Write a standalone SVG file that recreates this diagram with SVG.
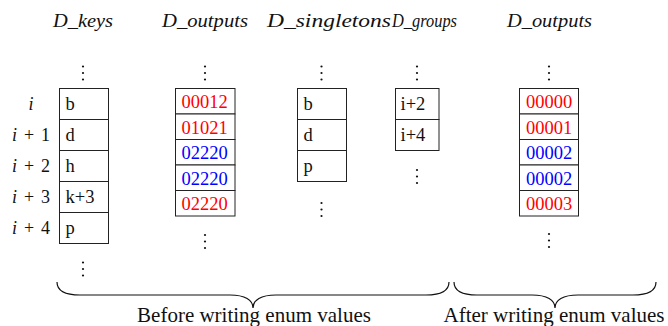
<svg xmlns="http://www.w3.org/2000/svg" width="668" height="326" viewBox="0 0 668 326">
<style>
  .title { font-family: "Liberation Serif", "DejaVu Serif", serif; font-style: italic; font-size: 19px; fill: #111; }
  .cell { fill: #fff; stroke: #222; stroke-width: 1; }
  .txt { font-family: "Liberation Serif", "DejaVu Serif", serif; font-size: 18.5px; fill: #111; }
  .red { fill: #ff0000; }
  .blue { fill: #0000ff; }
  .lbl { font-family: "Liberation Serif", "DejaVu Serif", serif; font-size: 18px; fill: #111; text-anchor: middle; }
  .brace { fill: none; stroke: #111; stroke-width: 1.2; }
  .cap { font-family: "Liberation Serif", "DejaVu Serif", serif; font-size: 21px; fill: #111; text-anchor: middle; }
</style>
<defs>
  <g id="vdots">
    <circle cx="0" cy="0" r="1.1" fill="#111"/>
    <circle cx="0" cy="6.5" r="1.1" fill="#111"/>
    <circle cx="0" cy="13" r="1.1" fill="#111"/>
  </g>
</defs>
<rect width="668" height="326" fill="#fff"/>

<g id="titles">
  <text class="title" x="53" y="26.5" textLength="60" lengthAdjust="spacingAndGlyphs">D_keys</text>
  <text class="title" x="162" y="26.5" textLength="86" lengthAdjust="spacingAndGlyphs">D_outputs</text>
  <text class="title" x="267" y="26.5" textLength="124" lengthAdjust="spacingAndGlyphs">D_singletons</text>
  <text class="title" x="392" y="26.5" textLength="65" lengthAdjust="spacingAndGlyphs">D_groups</text>
  <text class="title" x="507" y="26.5" textLength="85" lengthAdjust="spacingAndGlyphs">D_outputs</text>
</g>

<g id="row-labels">
  <text class="lbl" x="31" y="109.5" font-style="italic">i</text>
  <text class="lbl" x="31" y="140.5" textLength="38"><tspan font-style="italic">i</tspan> + 1</text>
  <text class="lbl" x="31" y="171.5" textLength="38"><tspan font-style="italic">i</tspan> + 2</text>
  <text class="lbl" x="31" y="202.5" textLength="38"><tspan font-style="italic">i</tspan> + 3</text>
  <text class="lbl" x="31" y="233.5" textLength="38"><tspan font-style="italic">i</tspan> + 4</text>
</g>

<g id="d-keys">
  <use href="#vdots" x="83" y="66.5"/>
  <rect class="cell" x="59.5" y="88.5" width="49" height="31"/>
  <rect class="cell" x="59.5" y="119.5" width="49" height="31"/>
  <rect class="cell" x="59.5" y="150.5" width="49" height="31"/>
  <rect class="cell" x="59.5" y="181.5" width="49" height="31"/>
  <rect class="cell" x="59.5" y="212.5" width="49" height="31"/>
  <text class="txt" x="65.5" y="109.5">b</text>
  <text class="txt" x="65.5" y="140.5">d</text>
  <text class="txt" x="65.5" y="171.5">h</text>
  <text class="txt" x="65.5" y="202.5">k+3</text>
  <text class="txt" x="65.5" y="233.5">p</text>
  <use href="#vdots" x="83" y="262.5"/>
</g>

<g id="d-outputs-before">
  <use href="#vdots" x="205" y="66.5"/>
  <rect class="cell" x="175.5" y="88.5" width="59.5" height="25.5"/>
  <rect class="cell" x="175.5" y="114" width="59.5" height="25.5"/>
  <rect class="cell" x="175.5" y="139.5" width="59.5" height="25.5"/>
  <rect class="cell" x="175.5" y="165" width="59.5" height="25.5"/>
  <rect class="cell" x="175.5" y="190.5" width="59.5" height="25.5"/>
  <text class="txt red" x="181.5" y="108.3">00012</text>
  <text class="txt red" x="181.5" y="133.8">01021</text>
  <text class="txt blue" x="181.5" y="159.3">02220</text>
  <text class="txt blue" x="181.5" y="184.8">02220</text>
  <text class="txt red" x="181.5" y="210.3">02220</text>
  <use href="#vdots" x="205" y="235"/>
</g>

<g id="d-singletons">
  <use href="#vdots" x="321.5" y="66.5"/>
  <rect class="cell" x="297.5" y="88.5" width="49" height="31"/>
  <rect class="cell" x="297.5" y="119.5" width="49" height="31"/>
  <rect class="cell" x="297.5" y="150.5" width="49" height="31"/>
  <text class="txt" x="303.5" y="109.5">b</text>
  <text class="txt" x="303.5" y="140.5">d</text>
  <text class="txt" x="303.5" y="171.5">p</text>
  <use href="#vdots" x="321.5" y="203"/>
</g>

<g id="d-groups">
  <use href="#vdots" x="417" y="66.5"/>
  <rect class="cell" x="395.5" y="88.5" width="43.5" height="31"/>
  <rect class="cell" x="395.5" y="119.5" width="43.5" height="31"/>
  <text class="txt" x="400.5" y="109.5">i+2</text>
  <text class="txt" x="400.5" y="140.5">i+4</text>
  <use href="#vdots" x="417" y="170"/>
</g>

<g id="d-outputs-after">
  <use href="#vdots" x="549" y="66.5"/>
  <rect class="cell" x="519.5" y="88.5" width="59" height="25.5"/>
  <rect class="cell" x="519.5" y="114" width="59" height="25.5"/>
  <rect class="cell" x="519.5" y="139.5" width="59" height="25.5"/>
  <rect class="cell" x="519.5" y="165" width="59" height="25.5"/>
  <rect class="cell" x="519.5" y="190.5" width="59" height="25.5"/>
  <text class="txt red" x="526" y="108.3">00000</text>
  <text class="txt red" x="526" y="133.8">00001</text>
  <text class="txt blue" x="526" y="159.3">00002</text>
  <text class="txt blue" x="526" y="184.8">00002</text>
  <text class="txt red" x="526" y="210.3">00003</text>
  <use href="#vdots" x="549" y="234"/>
</g>

<g id="braces">
  <path class="brace" d="M57,282 C57,290 64,295 80,295 L230,295 C245,295 253,300 253,308 C253,300 261,295 276,295 L426,295 C442,295 449,290 449,282"/>
  <path class="brace" d="M454,282 C454,290 461,295 477,295 L532,295 C547,295 555,300 555,308 C555,300 563,295 578,295 L633,295 C649,295 656,290 656,282"/>
  <text class="cap" x="254" y="322">Before writing enum values</text>
  <text class="cap" x="554" y="322">After writing enum values</text>
</g>
</svg>
